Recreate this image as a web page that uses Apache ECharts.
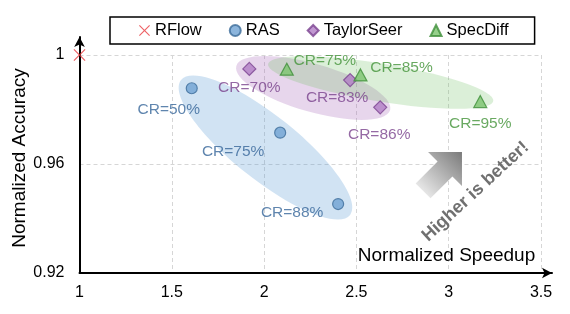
<!DOCTYPE html>
<html><head><meta charset="utf-8">
<script src="https://cdn.jsdelivr.net/npm/echarts@6/dist/echarts.min.js"></script>
<style>html,body{margin:0;padding:0;background:#fff}#c{width:570px;height:314px}</style>
</head><body><div id="c"></div>
<script>
// ---- data ----
const seriesNames = ['RFlow', 'RAS', 'TaylorSeer', 'SpecDiff'];
const rflowSpeedup = [1.0];
const rflowAccuracy = [1.0];
const rasSpeedup = [1.608, 2.087, 2.401];
const rasAccuracy = [0.9878, 0.9715, 0.9453];
const rasLabels = ['CR=50%', 'CR=75%', 'CR=88%'];
const taylorSpeedup = [1.920, 2.466, 2.629];
const taylorAccuracy = [0.9949, 0.9908, 0.9808];
const taylorLabels = ['CR=70%', 'CR=83%', 'CR=86%'];
const specSpeedup = [2.123, 2.522, 3.171];
const specAccuracy = [0.9948, 0.9927, 0.9829];
const specLabels = ['CR=75%', 'CR=85%', 'CR=95%'];
// cluster ellipses: major-axis endpoints in data units [x1, y1, x2, y2]
const rasCluster = [1.550, 0.99083, 2.466, 0.94128];
const taylorCluster = [1.8496, 0.99596, 2.6829, 0.97982];
const specCluster = [2.0217, 0.99670, 3.2412, 0.98312];
const xRange = [1, 3.5], xStep = 0.5;
const yRange = [0.92, 1.0], yStep = 0.04;
const xTitle = 'Normalized Speedup';
const yTitle = 'Normalized Accuracy';
const noteText = 'Higher is better!';

// ---- layout / style ----
const FONT = "'Liberation Sans', Arial, sans-serif";
const rasOffsets = [[-23, 21], [-47, 19], [-46, 9]];
const taylorOffsets = [[0, 19], [-13, 18], [-1, 27]];
const specOffsets = [[38, -8], [41, -7], [0, 22]];
const ellipseHalfWidth = [32, 24, 19];
const ellipseFill = ['rgba(91,155,213,0.28)', 'rgba(160,90,180,0.25)', 'rgba(112,190,100,0.25)'];
const XPATH = 'path://M0,0.7 L0.7,0 L5,4.3 L9.3,0 L10,0.7 L5.7,5 L10,9.3 L9.3,10 L5,5.7 L0.7,10 L0,9.3 L4.3,5 Z';

function items(xs, ys, labels, offsets) {
  return xs.map((x, i) => ({
    value: [x, ys[i]],
    name: labels ? labels[i] : '',
    label: offsets ? { offset: offsets[i] } : undefined
  }));
}

const chart = echarts.init(document.getElementById('c'), null, { renderer: 'canvas' });
const gridLine = { show: true, lineStyle: { color: '#d6d6d6', type: [4, 3], width: 1 } };
const labelBase = (color) => ({
  show: true, position: 'inside', formatter: p => p.name,
  fontFamily: FONT, fontSize: 15.5, color: color, align: 'center', verticalAlign: 'middle'
});

chart.setOption({
  animation: false,
  textStyle: { fontFamily: FONT },
  grid: [
    { left: 79.5, right: 29, top: 55, bottom: 41 },
    { left: 79.5, right: 18, top: 37, bottom: 41 }
  ],
  xAxis: [
    { gridIndex: 0, type: 'value', min: xRange[0], max: xRange[1], interval: xStep,
      axisLine: { show: false }, axisTick: { show: false },
      axisLabel: { fontFamily: FONT, fontSize: 16, color: '#000', margin: 12 },
      splitLine: gridLine },
    { gridIndex: 1, type: 'value', min: 0, max: 1, z: 5,
      axisLine: { show: true, lineStyle: { color: '#000', width: 2 }, symbol: ['none', 'arrow'], symbolSize: [8, 10] },
      axisTick: { show: false }, axisLabel: { show: false }, splitLine: { show: false } }
  ],
  yAxis: [
    { gridIndex: 0, type: 'value', min: yRange[0], max: yRange[1], interval: yStep,
      axisLine: { show: false }, axisTick: { show: false },
      axisLabel: { fontFamily: FONT, fontSize: 16, color: '#000', margin: 15 },
      splitLine: gridLine },
    { gridIndex: 1, type: 'value', min: 0, max: 1, z: 5,
      axisLine: { show: true, lineStyle: { color: '#000', width: 2 }, symbol: ['none', 'arrow'], symbolSize: [8, 10] },
      axisTick: { show: false }, axisLabel: { show: false }, splitLine: { show: false } }
  ],
  legend: {
    data: seriesNames, left: 110, top: 17, orient: 'horizontal',
    padding: [5, 26, 5, 29], itemGap: 27, itemWidth: 11, itemHeight: 11,
    borderColor: '#000', borderWidth: 1.5, backgroundColor: '#fff',
    textStyle: { fontFamily: FONT, fontSize: 16.5, color: '#000' }
  },
  series: [
    { type: 'custom', name: 'clusters', xAxisIndex: 0, yAxisIndex: 0, silent: true, z: 1,
      data: [rasCluster, taylorCluster, specCluster],
      renderItem: function (params, api) {
        const p1 = api.coord([api.value(0), api.value(1)]);
        const p2 = api.coord([api.value(2), api.value(3)]);
        const dx = p2[0] - p1[0], dy = p2[1] - p1[1];
        return {
          type: 'ellipse',
          x: (p1[0] + p2[0]) / 2, y: (p1[1] + p2[1]) / 2,
          rotation: -Math.atan2(dy, dx),
          shape: { cx: 0, cy: 0, rx: Math.hypot(dx, dy) / 2, ry: ellipseHalfWidth[params.dataIndex] },
          style: { fill: ellipseFill[params.dataIndex] }
        };
      }
    },
    { type: 'scatter', name: 'RFlow', xAxisIndex: 0, yAxisIndex: 0, clip: false, z: 6,
      symbol: XPATH, symbolSize: 12,
      itemStyle: { color: '#e8383d' },
      data: items(rflowSpeedup, rflowAccuracy) },
    { type: 'scatter', name: 'RAS', xAxisIndex: 0, yAxisIndex: 0, clip: false, z: 3,
      symbol: 'circle', symbolSize: 11,
      itemStyle: { color: '#6fa3d3', borderColor: '#3d6d9a', borderWidth: 1.2 },
      label: labelBase('#37679a'),
      data: items(rasSpeedup, rasAccuracy, rasLabels, rasOffsets) },
    { type: 'scatter', name: 'TaylorSeer', xAxisIndex: 0, yAxisIndex: 0, clip: false, z: 3,
      symbol: 'diamond', symbolSize: 13,
      itemStyle: { color: '#b27ec6', borderColor: '#7a4290', borderWidth: 1.2 },
      label: labelBase('#7a438d'),
      data: items(taylorSpeedup, taylorAccuracy, taylorLabels, taylorOffsets) },
    { type: 'scatter', name: 'SpecDiff', xAxisIndex: 0, yAxisIndex: 0, clip: false, z: 3,
      symbol: 'triangle', symbolSize: [13, 12],
      itemStyle: { color: '#7cc46e', borderColor: '#3f8f3a', borderWidth: 1.2 },
      label: labelBase('#44943a'),
      data: items(specSpeedup, specAccuracy, specLabels, specOffsets) }
  ],
  graphic: [
    { type: 'text', x: 446.5, y: 256, z: 10,
      style: { text: xTitle, font: "19px " + FONT, fill: '#000', align: 'center', verticalAlign: 'middle' } },
    { type: 'text', x: 20, y: 158, rotation: Math.PI / 2, z: 10,
      style: { text: yTitle, font: "19px " + FONT, fill: '#000', align: 'center', verticalAlign: 'middle' } },
    { type: 'polygon', x: 445, y: 169, rotation: Math.PI / 4, z: 4,
      shape: { points: [[-31, -10.5], [0, -10.5], [0, -24], [24, 0], [0, 24], [0, 10.5], [-31, 10.5]] },
      style: { fill: new echarts.graphic.LinearGradient(0, 0, 1, 0, [
        { offset: 0, color: '#e6e6e6' }, { offset: 1, color: '#7a7a7a' }]) } },
    { type: 'text', x: 475.5, y: 191.5, rotation: 0.745, z: 10,
      style: { text: noteText, font: "bold 18px " + FONT, fill: '#707070', align: 'center', verticalAlign: 'middle' } }
  ]
});
</script>
</body></html>
